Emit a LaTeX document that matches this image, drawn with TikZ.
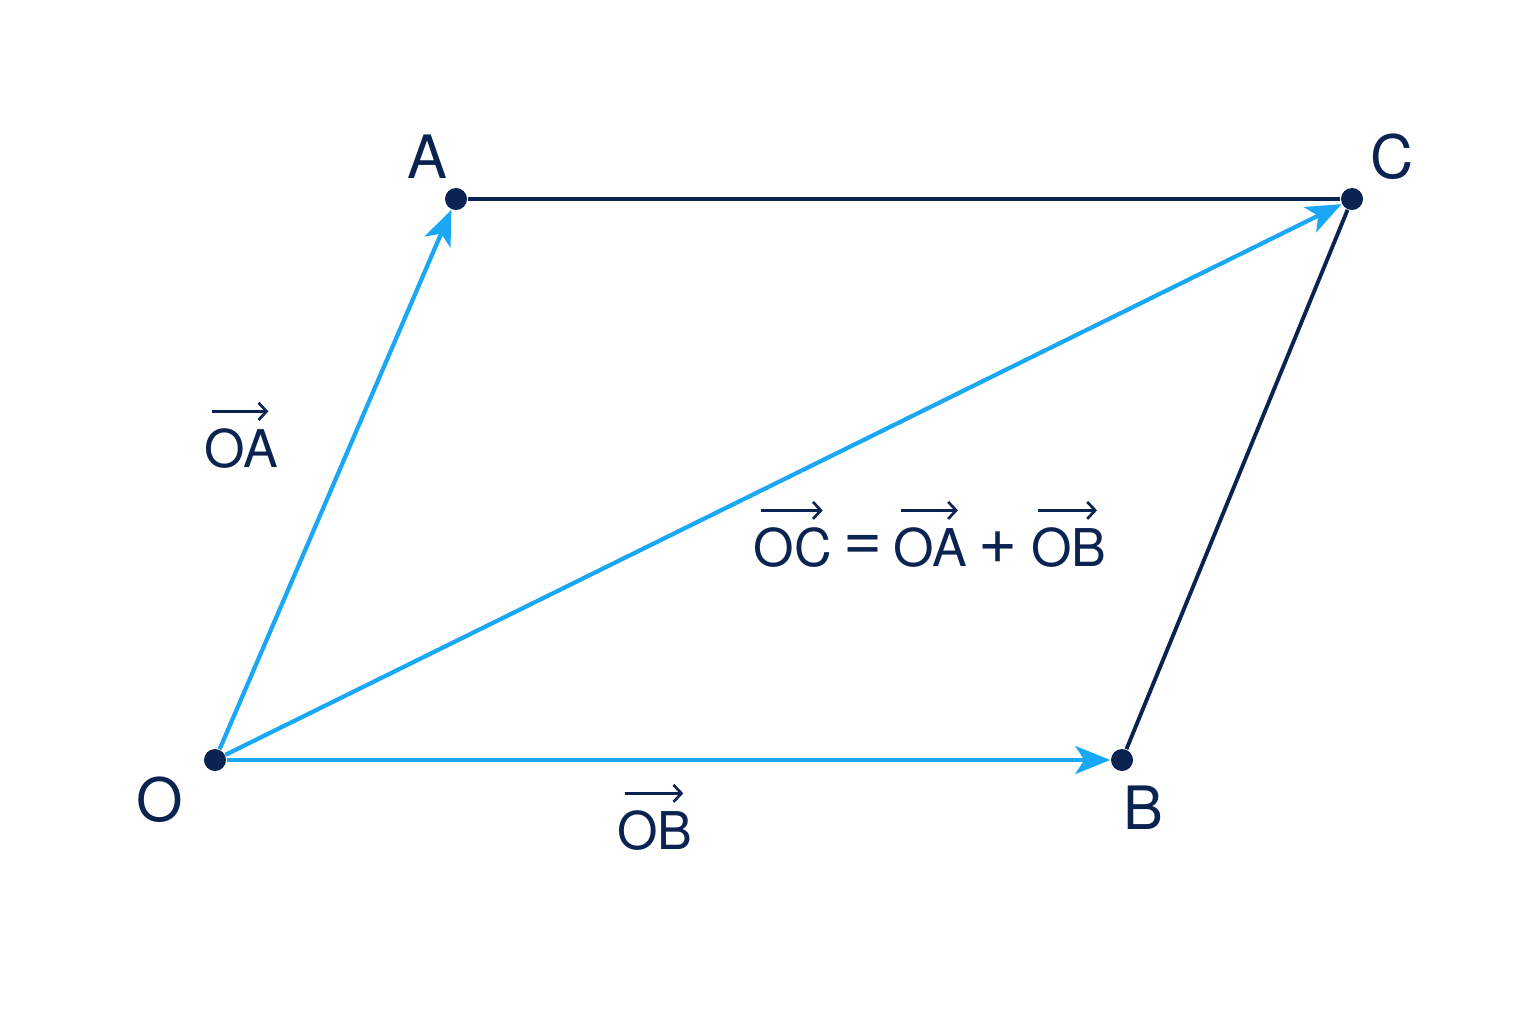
\documentclass[tikz,border=0pt]{standalone}
\usepackage{fontspec}
\setmainfont{TeX Gyre Heros}
\usetikzlibrary{arrows.meta,positioning}
\definecolor{navy}{HTML}{0B2350}
\definecolor{skyblue}{HTML}{1AA7F5}
\tikzset{
  pt/.style={circle,fill=navy,inner sep=0pt,minimum size=0.22cm},
  vec/.style={skyblue,line width=1.2pt,-{Stealth[length=0.35cm,width=0.28cm,inset=0.09cm]}},
  side/.style={navy,line width=1.1pt},
  lbl/.style={text=navy,font=\fontsize{17}{20}\selectfont},
  vlbl/.style={text=navy,inner sep=0pt,font=\fontsize{14.8}{17}\selectfont},
  opsym/.style={vlbl,font=\fontsize{19}{20}\selectfont},
  over/.style={navy,line width=0.75pt,-{Straight Barb[length=0.08cm,width=0.17cm]}}
}
\begin{document}
\begin{tikzpicture}[x=0.01cm,y=-0.01cm]
\fill[white] (0,0) rectangle (1536,1024);
\useasboundingbox (0,0) rectangle (1536,1024);
% the four corners
\node[pt] (O) at (215,760) {};
\node[pt] (A) at (456,199) {};
\node[pt] (B) at (1122,760) {};
\node[pt] (C) at (1352,199) {};
% sides
\draw[side] (A) -- (C);
\draw[side] (B) -- (C);
% vectors
\draw[vec] (O) -- (A);
\draw[vec] (O) -- (B);
\draw[vec] (O) -- (C);
% point labels
\node[lbl] (lA) at (427,157) {A};
\node[lbl] (lC) at (1392,157) {C};
\node[lbl] (lO) at (160,800) {O};
\node[lbl] (lB) at (1143,808) {B};
% vector labels
\node[vlbl] (vOA) at (241,449) {OA};
\node[vlbl] (vOB) at (655,831) {OB};
\node[vlbl] (vOC) at (793,548) {OC};
\node[opsym,right=0.1cm of vOC] (eq) {=};
\node[vlbl,right=0.1cm of eq] (vOA2) {OA};
\node[opsym,right=0.1cm of vOA2] (plus) {+};
\node[vlbl,right=0.12cm of plus] (vOB2) {OB};
% arrows over the names
\foreach \v in {vOA,vOB,vOC,vOA2,vOB2}{
\draw[over] ([xshift=0.08cm,yshift=0.17cm]\v.north west) -- ([xshift=-0.1cm,yshift=0.17cm]\v.north east);
}
\end{tikzpicture}
\end{document}
